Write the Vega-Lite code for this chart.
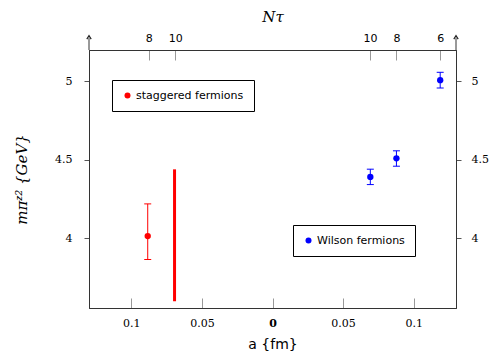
{
  "$schema": "https://vega.github.io/schema/vega-lite/v6.json",
  "width": 367,
  "height": 258,
  "autosize": {"type": "none"},
  "padding": {"left": 89, "top": 50, "right": 39, "bottom": 46},
  "background": "white",
  "config": {
    "view": {"stroke": "#333", "strokeWidth": 1},
    "axis": {"grid": false, "domainColor": "#333", "labelColor": "black", "titleColor": "black", "titleFontWeight": "normal"}
  },
  "datasets": {
    "stag": [{"a": -0.0884, "m": 4.015, "lo": 3.866, "hi": 4.22, "group": "staggered fermions"}],
    "band": [{"a": -0.0694, "lo": 3.6, "hi": 4.44}],
    "wil": [
      {"a": 0.0693, "m": 4.392, "lo": 4.343, "hi": 4.441, "group": "Wilson fermions"},
      {"a": 0.0878, "m": 4.51, "lo": 4.46, "hi": 4.558, "group": "Wilson fermions"},
      {"a": 0.1188, "m": 5.008, "lo": 4.958, "hi": 5.058, "group": "Wilson fermions"}
    ],
    "edges": [{"a": -0.13, "y0": 5.2, "y1": 5.276}, {"a": 0.13, "y0": 5.2, "y1": 5.276}]
  },
  "layer": [
    {
      "mark": {"type": "rule", "color": "black", "strokeWidth": 1},
      "encoding": {
        "x": {"datum": 0, "type": "quantitative", "scale": {"domain": [-0.13, 0.13], "nice": false, "zero": false}, "axis": null}
      }
    },
    {
      "data": {"name": "edges"},
      "mark": {"type": "rule", "color": "#333", "strokeWidth": 1, "clip": false},
      "encoding": {
        "x": {"field": "a", "type": "quantitative", "axis": null},
        "y": {"field": "y0", "type": "quantitative", "axis": null},
        "y2": {"field": "y1"}
      }
    },
    {
      "data": {"name": "edges"},
      "mark": {"type": "point", "shape": "M-0.8,0.4L0,-0.9L0.8,0.4", "filled": false, "stroke": "#222", "strokeWidth": 1.2, "size": 30, "opacity": 1, "clip": false},
      "encoding": {
        "x": {"field": "a", "type": "quantitative", "axis": null},
        "y": {"field": "y1", "type": "quantitative", "axis": null}
      }
    },
    {
      "data": {"name": "band"},
      "mark": {"type": "rule", "color": "#ff0000", "strokeWidth": 3},
      "encoding": {
        "x": {"field": "a", "type": "quantitative", "axis": null},
        "y": {"field": "lo", "type": "quantitative", "axis": null},
        "y2": {"field": "hi"}
      }
    },
    {
      "data": {"name": "stag"},
      "mark": {"type": "errorbar", "color": "#ff0000", "opacity": 1, "ticks": {"size": 7}},
      "encoding": {
        "x": {"field": "a", "type": "quantitative", "axis": null},
        "y": {"field": "lo", "type": "quantitative", "axis": null},
        "y2": {"field": "hi"}
      }
    },
    {
      "data": {"name": "wil"},
      "mark": {"type": "errorbar", "color": "#0000ff", "opacity": 1, "ticks": {"size": 7}},
      "encoding": {
        "x": {"field": "a", "type": "quantitative", "axis": null},
        "y": {"field": "lo", "type": "quantitative", "axis": null},
        "y2": {"field": "hi"}
      }
    },
    {
      "data": {"name": "stag"},
      "mark": {"type": "point", "filled": true, "size": 40, "opacity": 1, "shape": "circle"},
      "encoding": {
        "x": {
          "field": "a", "type": "quantitative",
          "scale": {"domain": [-0.13, 0.13], "nice": false, "zero": false},
          "axis": {
            "orient": "bottom",
            "values": [-0.1, -0.05, 0, 0.05, 0.1],
            "labelExpr": "format(abs(datum.value), '~g')",
            "labelFont": "DejaVu Serif",
            "labelFontSize": 11,
            "labelFontWeight": {"condition": {"test": "datum.value == 0", "value": "bold"}, "value": "normal"},
            "labelPadding": 19,
            "tickSize": -10,
            "tickColor": "#999",
            "title": "a {fm}",
            "titleFont": "DejaVu Sans",
            "titleFontSize": 14,
            "titlePadding": 9
          }
        },
        "y": {
          "field": "m", "type": "quantitative",
          "scale": {"domain": [3.557, 5.2], "nice": false, "zero": false},
          "axis": {
            "orient": "left",
            "values": [4, 4.5, 5],
            "format": "~g",
            "labelFont": "DejaVu Serif",
            "labelFontSize": 11,
            "labelPadding": 12,
            "tickSize": 5,
            "tickColor": "#555",
            "title": "mπᶻ² {GeV}",
            "titleFont": "DejaVu Serif",
            "titleFontStyle": "italic",
            "titleFontSize": 15,
            "titlePadding": 25
          }
        },
        "color": {
          "field": "group", "type": "nominal",
          "scale": {"domain": ["staggered fermions"], "range": ["#ff0000"]},
          "legend": {
            "orient": "none", "legendX": 23, "legendY": 30,
            "title": null,
            "strokeColor": "black", "fillColor": "white",
            "padding": 10,
            "labelFont": "DejaVu Sans", "labelFontSize": 11, "labelColor": "black",
            "symbolType": "circle", "symbolSize": 36, "labelOffset": 3
          }
        }
      }
    },
    {
      "data": {"name": "wil"},
      "mark": {"type": "point", "filled": true, "size": 40, "opacity": 1, "shape": "circle"},
      "encoding": {
        "x": {
          "field": "a", "type": "quantitative",
          "axis": {
            "orient": "top",
            "values": [-0.0876, -0.0689, 0.0691, 0.0878, 0.1188],
            "labelExpr": "datum.value < -0.08 ? '8' : datum.value < 0 ? '10' : datum.value < 0.08 ? '10' : datum.value < 0.1 ? '8' : '6'",
            "labelFont": "DejaVu Sans",
            "labelFontSize": 11,
            "labelPadding": 17,
            "tickSize": -10,
            "tickColor": "#999",
            "title": "Nτ",
            "titleFont": "DejaVu Serif",
            "titleFontStyle": "italic",
            "titleFontSize": 15,
            "titlePadding": 8
          }
        },
        "y": {
          "field": "m", "type": "quantitative",
          "axis": {
            "orient": "right",
            "values": [4, 4.5, 5],
            "format": "~g",
            "labelFont": "DejaVu Serif",
            "labelFontSize": 11,
            "labelPadding": 10,
            "tickSize": 5,
            "tickColor": "#555",
            "title": null
          }
        },
        "color": {
          "field": "group", "type": "nominal",
          "scale": {"domain": ["Wilson fermions"], "range": ["#0000ff"]},
          "legend": {
            "orient": "none", "legendX": 204, "legendY": 175,
            "title": null,
            "strokeColor": "black", "fillColor": "white",
            "padding": 10,
            "labelFont": "DejaVu Sans", "labelFontSize": 11, "labelColor": "black",
            "symbolType": "circle", "symbolSize": 36, "labelOffset": 3
          }
        }
      }
    }
  ],
  "resolve": {
    "scale": {"color": "independent"},
    "legend": {"color": "independent"},
    "axis": {"x": "independent", "y": "independent"}
  }
}
